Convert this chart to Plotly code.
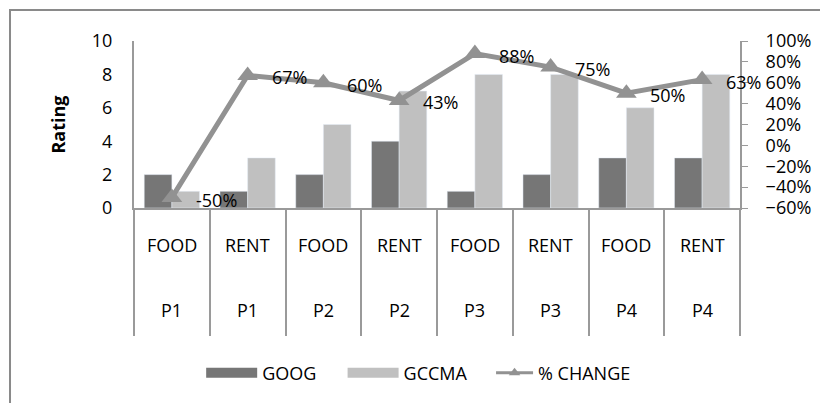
import plotly.graph_objects as go

periods = ["P1", "P1", "P2", "P2", "P3", "P3", "P4", "P4"]
items = ["FOOD", "RENT", "FOOD", "RENT", "FOOD", "RENT", "FOOD", "RENT"]
goog = [2, 1, 2, 4, 1, 2, 3, 3]
gccma = [1, 3, 5, 7, 8, 8, 6, 8]
pct_change = [-0.50, 0.67, 0.60, 0.43, 0.88, 0.75, 0.50, 0.63]
pct_labels = ["-50%", "67%", "60%", "43%", "88%", "75%", "50%", "63%"]
left_ticks = [0, 2, 4, 6, 8, 10]
right_ticks = [-0.6, -0.4, -0.2, 0, 0.2, 0.4, 0.6, 0.8, 1.0]

cats = [f"{p} {i}" for p, i in zip(periods, items)]
FONT = "Open Sans, Liberation Sans, Arial"
FS = 18
AX = "#9a9a9a"
C_GOOG = "#767676"
C_GCCMA = "#c0c0c0"
C_LINE = "#929292"

fig = go.Figure()
fig.add_trace(go.Bar(x=cats, y=goog, name="GOOG", marker_color=C_GOOG,
                     showlegend=False))
fig.add_trace(go.Bar(x=cats, y=gccma, name="GCCMA", marker_color=C_GCCMA,
                     showlegend=False))
fig.add_trace(go.Scatter(
    x=cats, y=pct_change, name="% CHANGE", yaxis="y2",
    mode="lines+markers",
    line=dict(color=C_LINE, width=5),
    marker=dict(symbol="triangle-up", size=18, color=C_LINE),
    cliponaxis=False, showlegend=False,
))

# legend entries (wide swatches like the original), one legend each
fig.add_trace(go.Scatter(x=[None], y=[None], mode="lines", name="GOOG",
                         line=dict(color=C_GOOG, width=10), legend="legend"))
fig.add_trace(go.Scatter(x=[None], y=[None], mode="lines", name="GCCMA",
                         line=dict(color=C_GCCMA, width=10), legend="legend2"))
fig.add_trace(go.Scatter(x=[None], y=[None], mode="lines+markers", name="% CHANGE",
                         line=dict(color=C_LINE, width=3),
                         marker=dict(symbol="triangle-up", size=10, color=C_LINE),
                         legend="legend3"))

# data labels for % change
for c, v, lab in zip(cats, pct_change, pct_labels):
    fig.add_annotation(x=c, y=v, xref="x", yref="y2", text=lab,
                       showarrow=False, xanchor="left", yanchor="middle",
                       xshift=22, yshift=-2,
                       font=dict(size=FS, family=FONT, color="#000"))

# category labels below axis (two rows)
for c, it, p in zip(cats, items, periods):
    fig.add_annotation(x=c, y=-0.22, xref="x", yref="paper", text=it,
                       showarrow=False, yanchor="middle",
                       font=dict(size=FS, family=FONT, color="#000"))
    fig.add_annotation(x=c, y=-0.61, xref="x", yref="paper", text=p,
                       showarrow=False, yanchor="middle",
                       font=dict(size=FS, family=FONT, color="#000"))

# outer chart border
fig.add_shape(type="rect", xref="paper", yref="paper",
              x0=-0.2046, x1=1.2, y0=-1.35, y1=1.1856,
              line=dict(color="#8a8a8a", width=2), layer="below")

leg_common = dict(orientation="h", xref="container", yref="container",
                  xanchor="left", y=0.0943, yanchor="middle",
                  font=dict(size=FS, family=FONT), bgcolor="rgba(0,0,0,0)")

fig.update_layout(
    width=828, height=403,
    margin=dict(l=126, r=96, t=33, b=203, autoexpand=False),
    paper_bgcolor="white", plot_bgcolor="white",
    barmode="group", bargap=0.27, bargroupgap=0,
    font=dict(family=FONT, size=FS, color="#000"),
    showlegend=True,
    legend=dict(x=0.2333, itemwidth=51, **leg_common),
    legend2=dict(x=0.4041, itemwidth=51, **leg_common),
    legend3=dict(x=0.5834, itemwidth=37, **leg_common),
    xaxis=dict(type="category", range=[-0.5, 7.5], autorange=False,
               showgrid=False, tickson="boundaries",
               ticks="outside", ticklen=126, tickcolor=AX, tickwidth=1.5,
               showticklabels=False, showline=True, linecolor=AX, linewidth=2,
               zeroline=False),
    yaxis=dict(range=[0, 10], tickvals=left_ticks, showgrid=False,
               showline=True, linecolor=AX, linewidth=2, ticks="",
               zeroline=False, ticklabelstandoff=16,
               title=dict(text="<b>Rating</b>", font=dict(size=FS, family=FONT), standoff=22)),
    yaxis2=dict(range=[-0.6, 1.0], tickvals=right_ticks, tickformat=".0%",
                overlaying="y", side="right", showgrid=False, showline=True,
                linecolor=AX, linewidth=2, ticks="outside", ticklen=6,
                tickcolor=AX, zeroline=False, ticklabelstandoff=14),
)

fig.write_html("out.html")
